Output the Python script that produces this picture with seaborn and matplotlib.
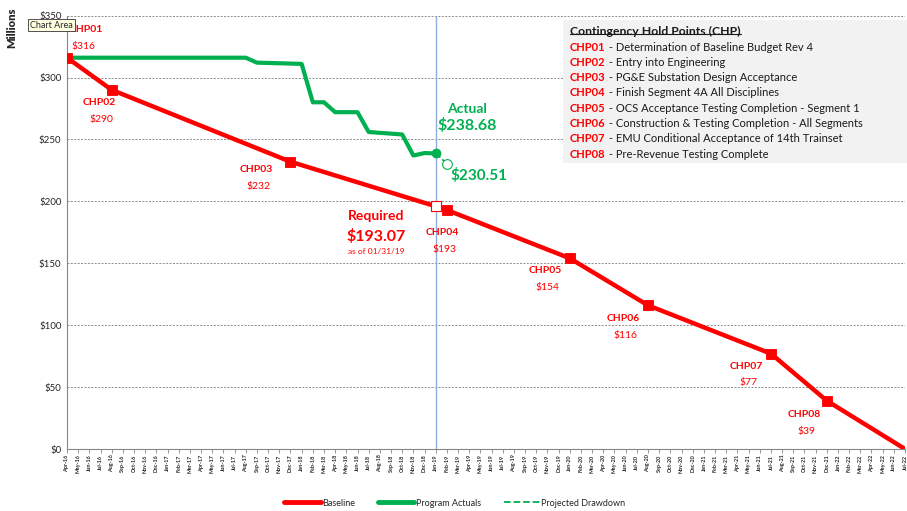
import pandas as pd
import matplotlib.pyplot as plt
import seaborn as sns
from matplotlib.lines import Line2D

# data (month index 0 = Apr-16)
month_labels = list(pd.date_range('2016-04-01', '2022-07-01', freq='MS').strftime('%b-%y'))

baseline_month = [0, 4, 20, 33, 34, 45, 52, 63, 68, 75]
baseline_value = [316, 290, 232, 196, 193, 154, 116, 77, 39, 0]

chp_names = ['CHP01', 'CHP02', 'CHP03', 'CHP04', 'CHP05', 'CHP06', 'CHP07', 'CHP08']
chp_month = [0, 4, 20, 34, 45, 52, 63, 68]
chp_value = [316, 290, 232, 193, 154, 116, 77, 39]
chp_desc = ['Determination of Baseline Budget Rev 4',
            'Entry into Engineering',
            'PG&E Substation Design Acceptance',
            'Finish Segment 4A All Disciplines',
            'OCS Acceptance Testing Completion - Segment 1',
            'Construction & Testing Completion - All Segments',
            'EMU Conditional Acceptance of 14th Trainset',
            'Pre-Revenue Testing Complete']

actual_month = [0, 16, 17, 21, 22, 23, 24, 26, 27, 30, 31, 32, 33]
actual_value = [316, 316, 312, 311, 280, 280, 272, 272, 256, 254, 237, 239, 238.68]

projected_month = [33, 34]
projected_value = [238.68, 230.51]

required_month = 33
required_value = 193.07
required_marker = 196

RED = '#ff0000'
GREEN = '#00b050'

sns.set_theme(style="white")
plt.rcParams['font.family'] = ['Lato', 'DejaVu Sans']

fig = plt.figure(figsize=(9.07, 5.11), dpi=100)
ax = fig.add_axes([67 / 907, 1 - 449 / 511, 838 / 907, (449 - 15.6) / 511])

base_df = pd.DataFrame({'month': baseline_month, 'value': baseline_value})
act_df = pd.DataFrame({'month': actual_month, 'value': actual_value})
proj_df = pd.DataFrame({'month': projected_month, 'value': projected_value})
chp_df = pd.DataFrame({'month': chp_month, 'value': chp_value})

sns.lineplot(data=base_df, x='month', y='value', ax=ax, color=RED, lw=3.2, zorder=3)
sns.lineplot(data=act_df, x='month', y='value', ax=ax, color=GREEN, lw=3, zorder=3)
sns.lineplot(data=proj_df, x='month', y='value', ax=ax, color=GREEN, lw=1.2,
             linestyle='--', zorder=3)
sns.scatterplot(data=chp_df, x='month', y='value', ax=ax, marker='s', s=60,
                color=RED, edgecolor=RED, zorder=4)
ax.plot(required_month, required_marker, marker='s', ms=7, mfc='white', mec=RED,
        mew=0.8, zorder=5)
ax.plot(actual_month[-1], actual_value[-1], marker='o', ms=6, color=GREEN, zorder=5)
ax.plot(projected_month[-1], projected_value[-1], marker='o', ms=7, mfc='white',
        mec=GREEN, mew=0.8, zorder=5)

ax.axvline(required_month, color='#8faadc', lw=1, zorder=2)

# axes styling
ax.set_xlim(0, 75)
ax.set_ylim(0, 350)
ax.set_xticks(range(len(month_labels)))
ax.set_xticklabels(month_labels, rotation=90, fontsize=3.9, fontweight='bold')
ax.set_yticks(range(0, 351, 50))
ax.set_yticklabels([f'${v}' for v in range(0, 351, 50)], fontsize=7)
ax.set_xlabel('')
ax.set_ylabel('')
ax.yaxis.grid(True, linestyle=(0, (2, 1.5)), color='#8c8c8c', lw=0.7)
for s in ['top', 'right']:
    ax.spines[s].set_visible(False)
for s in ['left', 'bottom']:
    ax.spines[s].set_color('#868686')
    ax.spines[s].set_linewidth(0.8)
ax.tick_params(axis='x', length=3, width=0.6, color='#868686', pad=1, bottom=True)
ax.tick_params(axis='y', length=0, pad=4)

# CHP labels on the chart
chp_label_xy = [(0.25, 339, 'left'), (2.9, 280, 'center'), (16.9, 226, 'center'),
                (33.6, 175, 'center'), (42.8, 144, 'center'), (49.8, 105.5, 'center'),
                (60.8, 67, 'center'), (66, 28, 'center')]
for name, val, (lx, ly, ha) in zip(chp_names, chp_value, chp_label_xy):
    ax.text(lx, ly, name, color=RED, fontsize=7.5, fontweight='bold', ha=ha, va='center')
    ax.text(lx + (0.15 if ha == 'left' else 0.2), ly - 13.7, f'${val}', color=RED,
            fontsize=7.5, ha=ha, va='center')

ax.text(27.7, 188.5, 'Required', color=RED, fontsize=10, fontweight='bold',
        ha='center', va='center')
ax.text(27.7, 172, f'${required_value:.2f}', color=RED, fontsize=11.5,
        fontweight='bold', ha='center', va='center')
ax.text(27.7, 159.5, 'as of 01/31/19', color=RED, fontsize=6, ha='center', va='center')

ax.text(35.8, 274.5, 'Actual', color=GREEN, fontsize=10, fontweight='bold',
        ha='center', va='center')
ax.text(35.8, 261, f'${actual_value[-1]:.2f}', color=GREEN, fontsize=11.5,
        fontweight='bold', ha='center', va='center')
ax.text(34.3, 220.5, f'${projected_value[-1]:.2f}', color=GREEN, fontsize=11,
        fontweight='bold', ha='left', va='center')

# CHP description box
box = plt.Rectangle((563 / 907, 1 - 163 / 511), 344 / 907, 143 / 511,
                    transform=fig.transFigure, facecolor='#f2f2f2', edgecolor='none',
                    zorder=1)
fig.add_artist(box)
title = fig.text(570 / 907, 1 - 31 / 511, 'Contingency Hold Points (CHP)', fontsize=8.8,
                 fontweight='bold', color='#1a1a1a', va='center', ha='left', zorder=2)
name_texts = []
for i, name in enumerate(chp_names):
    py = 47 + i * 15.3
    name_texts.append(fig.text(570 / 907, 1 - py / 511, name, color=RED, fontsize=8,
                               fontweight='bold', va='center', ha='left', zorder=2))

fig.canvas.draw()
inv = fig.transFigure.inverted()
for t, desc in zip(name_texts, chp_desc):
    tb = t.get_window_extent().transformed(inv)
    fig.text(tb.x1, t.get_position()[1], ' - ' + desc, fontsize=8, color='#1a1a1a',
             va='center', ha='left', zorder=2)
bb = title.get_window_extent().transformed(inv)
fig.add_artist(Line2D([bb.x0, bb.x1], [bb.y0 + 0.004, bb.y0 + 0.004],
                      transform=fig.transFigure, color='#1a1a1a', lw=0.8, zorder=2))

# y label and tooltip
fig.text(12 / 907, 1 - 28 / 511, 'Millions', rotation=90, fontsize=8,
         fontweight='heavy', ha='center', va='center')
fig.text(30 / 907, 1 - 25 / 511, 'Chart Area', fontsize=6.5, ha='left', va='center',
         bbox=dict(boxstyle='square,pad=0.2', facecolor='#ffffe1', edgecolor='#333333',
                   lw=0.6))

# legend
handles = [Line2D([0], [0], color=RED, lw=3.5),
           Line2D([0], [0], color=GREEN, lw=3.5),
           Line2D([0], [0], color=GREEN, lw=1.3, linestyle='--')]
fig.legend(handles, ['Baseline', 'Program Actuals', 'Projected Drawdown'],
           loc='center', bbox_to_anchor=(455 / 907, 1 - 503 / 511), ncol=3,
           frameon=False, fontsize=6.5, handlelength=4, handletextpad=0.2,
           columnspacing=2.5)

plt.savefig('out.png', dpi=100)
